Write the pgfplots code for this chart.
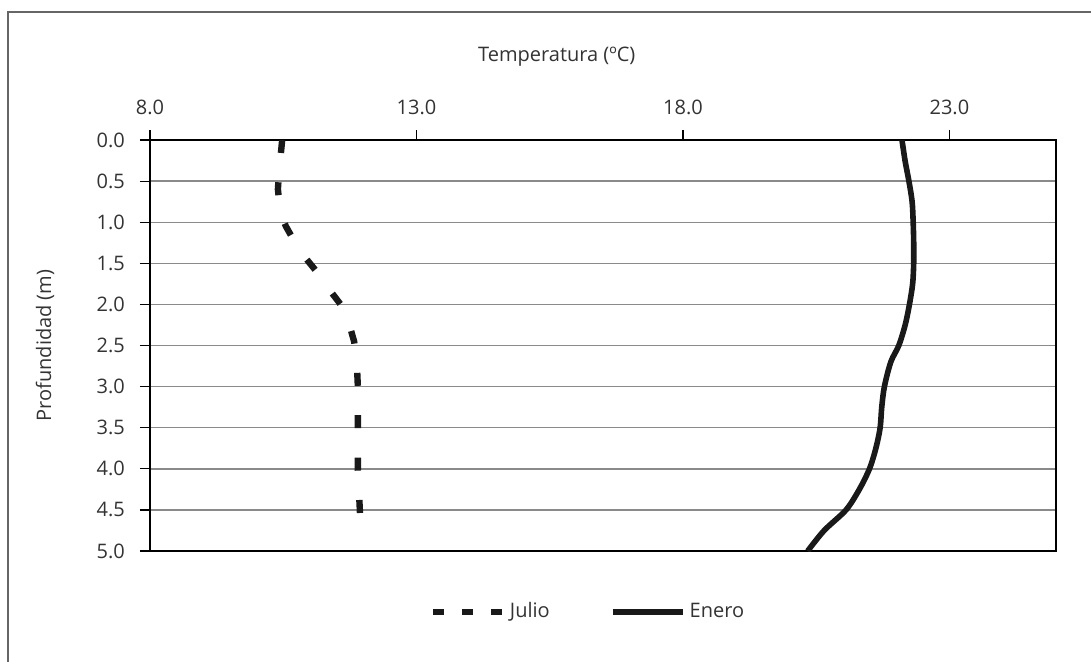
\documentclass[border=0pt]{standalone}
\usepackage{pgfplots}
\pgfplotsset{compat=1.18}
\usepackage{fontspec}
\setmainfont{Open Sans}
\definecolor{txt}{HTML}{333333}
\definecolor{gridc}{HTML}{8A8A8A}
\begin{document}
\begin{tikzpicture}
\begin{axis}[
  at={(0,0)}, anchor=south west,
  scale only axis, width=453pt, height=205.5pt,
  xmin=8, xmax=25, ymin=0, ymax=5, y dir=reverse,
  xtick={8,13,18,23}, ytick={0,0.5,...,5},
  xticklabel pos=top, xtick pos=top, ytick pos=left,
  tick align=outside, major tick length=5pt,
  tick style={black, line width=0.6pt},
  /pgf/number format/assume math mode=true,
  /pgf/number format/fixed, /pgf/number format/fixed zerofill, /pgf/number format/precision=1,
  ticklabel style={font=\fontsize{10}{12}\selectfont, text=txt},
  xticklabel style={yshift=4pt},
  yticklabel style={xshift=-4pt},
  ymajorgrids, grid style={gridc, line width=0.7pt},
  axis line style={black, line width=0.9pt},
  xlabel={Temperatura (ºC)},
  xlabel style={at={(axis description cs:0.449,1.202)}, anchor=center, font=\fontsize{10}{12}\selectfont, text=txt},
  ylabel={Profundidad (m)},
  ylabel style={at={(axis description cs:-0.1159,0.5)}, anchor=center, rotate=0, font=\fontsize{10}{12}\selectfont, text=txt},
  legend columns=2,
  legend style={draw=none, fill=none, at={(axis description cs:0.4846,-0.148)}, anchor=center,
    font=\fontsize{10}{12}\selectfont, text=txt,
    /tikz/every even column/.append style={column sep=28pt}},
  legend cell align=left,
]
\addplot[color=black!90, line width=3.2pt, dash pattern=on 6.5pt off 14.7pt,
  legend image code/.code={\draw[line width=3pt, dash pattern=on 5.5pt off 9pt, black!90] (0pt,0pt) -- (35pt,0pt);}]
  coordinates {
  (10.48,0.0) (10.42,0.4) (10.40,0.6) (10.45,0.9) (10.55,1.05) (10.68,1.2)
  (10.90,1.42) (11.10,1.58) (11.40,1.85) (11.60,2.02) (11.72,2.2) (11.83,2.45)
  (11.88,2.7) (11.90,3.0) (11.90,3.5) (11.90,4.0) (11.95,4.67)
  };
\addlegendentry{Julio}
\addplot[color=black!90, line width=2.8pt, smooth,
  legend image code/.code={\draw[line width=3pt, black!90] (0pt,0pt) -- (35pt,0pt);}]
  coordinates {
  (22.11,0) (22.17,0.26) (22.24,0.5) (22.30,0.75) (22.32,1.0) (22.33,1.25)
  (22.33,1.5) (22.31,1.75) (22.25,2.0) (22.17,2.25) (22.05,2.5) (21.90,2.7)
  (21.78,3.0) (21.73,3.25) (21.70,3.5) (21.62,3.75) (21.50,4.0) (21.31,4.25)
  (21.06,4.5) (20.65,4.75) (20.34,5.0)
  };
\addlegendentry{Enero}
\end{axis}
\draw[gray!80!black, line width=0.6pt] (-71pt,-56pt) -- (-71pt,269.5pt) -- (471pt,269.5pt);
\pgfresetboundingbox
\path (-75pt,-55pt) rectangle (470.5pt,275.5pt);
\end{tikzpicture}
\end{document}
